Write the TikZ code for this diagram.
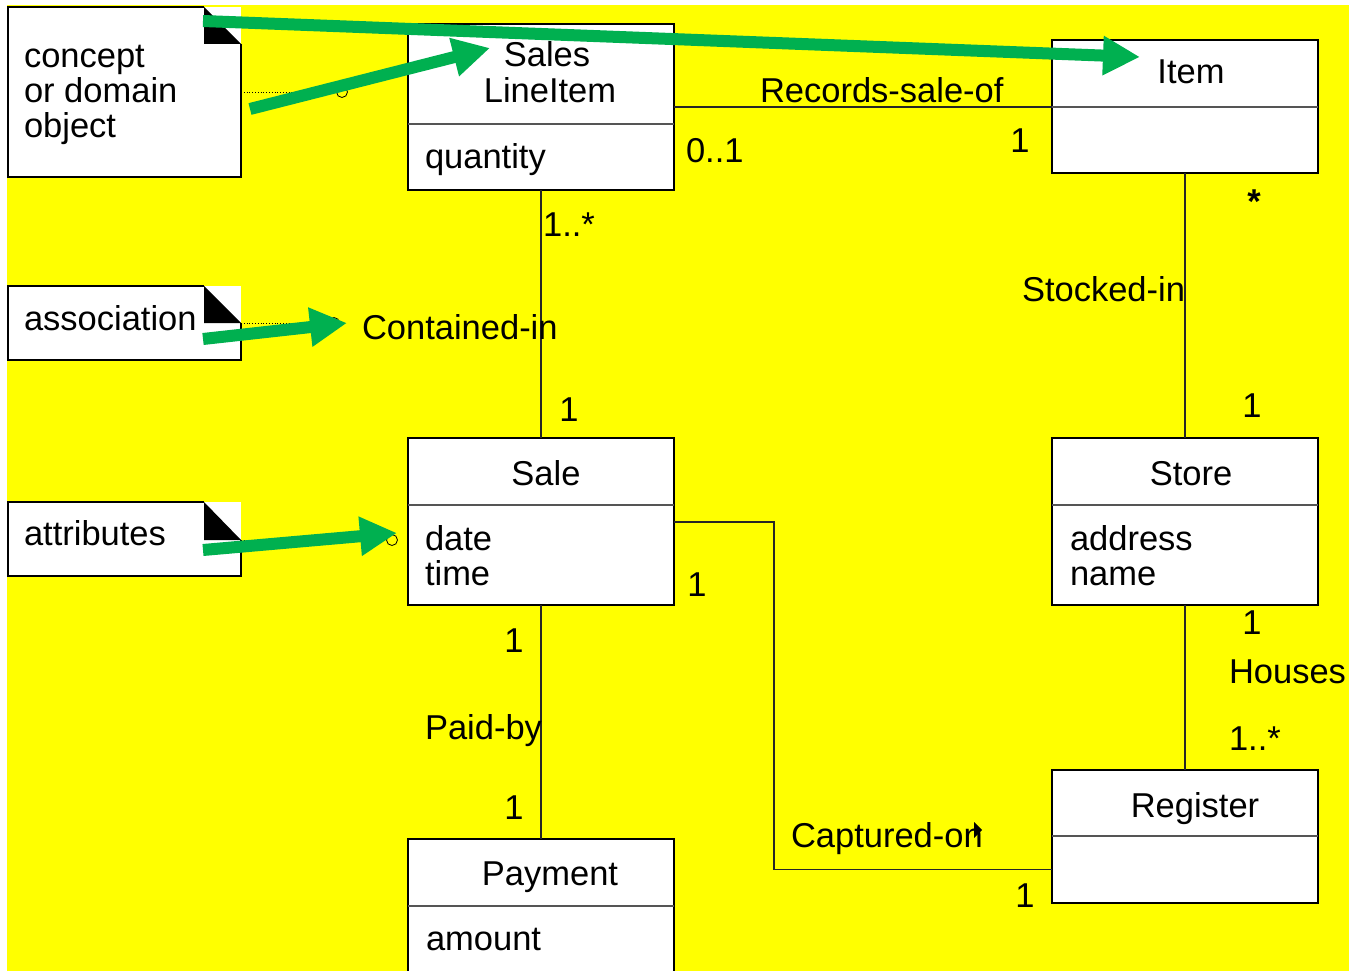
\documentclass[tikz,border=0pt]{standalone}
\usepackage{fontspec}
\setmainfont{Liberation Sans}
\usetikzlibrary{arrows.meta,calc}
\definecolor{bg}{RGB}{255,255,0}
\definecolor{hl}{RGB}{0,176,80}
\definecolor{rulegray}{RGB}{85,85,85}

\begin{document}
\begin{tikzpicture}[x=1pt,y=-1pt,
  every node/.style={inner sep=0pt, outer sep=0pt, font=\fontsize{34.5}{36}\selectfont},
  compart/.style={draw=black, fill=white, line width=1.2pt, minimum width=266pt, anchor=north west},
  divider/.style={draw=rulegray, line width=2pt},
  notebox/.style={fill=white, minimum width=233pt, anchor=north west},
  assoc/.style={draw=black!85, line width=1.2pt},
  hole/.style={circle, draw=black, line width=0.8pt, minimum size=11pt},
  dotline/.style={draw=black, line width=0.8pt, dotted},
  hilite/.style={draw=hl, line width=12pt, -{Triangle[length=37pt,width=37pt]}},
  lbl/.style={anchor=base west},
  ctr/.style={anchor=base}
]
\useasboundingbox (0,0) rectangle (1349,971);
\fill[white] (0,0) rectangle (1349,971);
\fill[bg] (7,5) rectangle (1349,971);

% ---- notes with folded corner ----
\node[notebox, minimum height=170pt] (n1) at (8,7) {};
\draw[line width=1.2pt] (204,7) -- (n1.north west) -- (n1.south west) -- (n1.south east) -- (241,44);
\fill[black] (204,7) -- (204,44) -- (241,44) -- cycle;
\node[notebox, minimum height=74pt] (n2) at (8,286) {};
\draw[line width=1.2pt] (204,286) -- (n2.north west) -- (n2.south west) -- (n2.south east) -- (241,323);
\fill[black] (204,286) -- (204,323) -- (241,323) -- cycle;
\node[notebox, minimum height=74pt] (n3) at (8,502) {};
\draw[line width=1.2pt] (204,502) -- (n3.north west) -- (n3.south west) -- (n3.south east) -- (241,540);
\fill[black] (204,502) -- (204,540) -- (241,540) -- cycle;

\node[lbl] (n1a) at (24,68) {concept};
\node[lbl] (n1b) at (24,103) {or domain};
\node[lbl] (n1c) at (24,138) {object};
\node[lbl] (n2t) at (24,330) {association};
\node[lbl] (n3t) at (24,545) {attributes};

% ---- classes ----
\node[compart, minimum height=100pt] (sliN) at (408,24) {};
\node[compart, minimum height=66pt] (sliA) at (408,124) {};
\draw[divider] (sliA.north west) -- (sliA.north east);

\node[compart, minimum height=67pt] (itemN) at (1052,40) {};
\node[compart, minimum height=66pt] (itemA) at (1052,107) {};
\draw[divider] (itemA.north west) -- (itemA.north east);

\node[compart, minimum height=67pt] (saleN) at (408,438) {};
\node[compart, minimum height=100pt] (saleA) at (408,505) {};
\draw[divider] (saleA.north west) -- (saleA.north east);

\node[compart, minimum height=67pt] (storeN) at (1052,438) {};
\node[compart, minimum height=100pt] (storeA) at (1052,505) {};
\draw[divider] (storeA.north west) -- (storeA.north east);

\node[compart, minimum height=66pt] (regN) at (1052,770) {};
\node[compart, minimum height=67pt] (regA) at (1052,836) {};
\draw[divider] (regA.north west) -- (regA.north east);

\node[compart, minimum height=67pt] (payN) at (408,839) {};
\node[compart, minimum height=100pt] (payA) at (408,906) {};
\draw[divider] (payA.north west) -- (payA.north east);

% class names and attributes
\node[ctr] (sliT1) at (547,67) {Sales};
\node[ctr] (sliT2) at (550,103) {LineItem};
\node[lbl] (sliX) at (425,168) {quantity};
\node[ctr] (itemT) at (1191,84) {Item};
\node[ctr] (saleT) at (546,485) {Sale};
\node[lbl] (saleX1) at (425,550) {date};
\node[lbl] (saleX2) at (425,585) {time};
\node[ctr] (storeT) at (1191,485) {Store};
\node[lbl] (storeX1) at (1070,550) {address};
\node[lbl] (storeX2) at (1070,585) {name};
\node[ctr] (regT) at (1195,817) {Register};
\node[ctr] (payT) at (550,885) {Payment};
\node[lbl] (payX) at (426,950) {amount};

% ---- associations ----
\draw[assoc] (sliN.east |- itemA.north west) -- (itemA.north west);
\draw[assoc] (sliA.south) -- (saleN.north);
\draw[assoc] (itemA.south) -- (storeN.north);
\draw[assoc] (storeA.south) -- (regN.north);
\draw[assoc] (saleA.south) -- (payN.north);
\coordinate (capBend) at (774,522);
\draw[assoc] (saleA.east |- capBend) -- (capBend) -- (capBend |- regA.west) -- (regA.west);

% association names and multiplicities
\node[lbl] (recT) at (760,103) {Records-sale-of};
\node[lbl] (recM1) at (686,162) {0..1};
\node[ctr] (recM2) at (1020,153) {1};
\node[lbl] (conT) at (362,339) {Contained-in};
\node[ctr] (conM1) at (569,236) {1..*};
\node[ctr] (conM2) at (569,421) {1};
\node[anchor=base east] (stkT) at (1185,301) {Stocked-in};
\node[ctr, font=\fontsize{34.5}{36}\selectfont\bfseries] (stkM1) at (1254,213) {*};
\node[ctr] (stkM2) at (1252,417) {1};
\node[ctr] (houM1) at (1252,634) {1};
\node[lbl] (houT) at (1229,683) {Houses};
\node[lbl] (houM2) at (1229,750) {1..*};
\node[ctr] (payM1) at (514,652) {1};
\node[lbl] (payL) at (425,739) {Paid-by};
\node[ctr] (payM2) at (514,819) {1};
\node[ctr] (capM1) at (697,596) {1};
\node[lbl] (capT) at (791,847) {Captured-on};
\node[ctr] (capM2) at (1025,907) {1};
\fill[black] (974,822) -- (982,830) -- (974,838) -- cycle;

% ---- note anchors ----
\node[hole] (h1) at (342,92) {};
\node[hole] (h2) at (334,323) {};
\node[hole] (h3) at (392,540) {};
\draw[dotline] (n1.east |- h1) -- (h1.west);
\draw[dotline] (n2.east |- h2) -- (h2.west);
\draw[dotline] (n3.east |- h3) -- (h3.west);

% ---- highlight arrows ----
\coordinate (g1s) at (203,21);
\coordinate (g1e) at (1140,57);
\coordinate (g2s) at (250,109);
\coordinate (g2e) at (490,48);
\coordinate (g3s) at (203,339);
\coordinate (g3e) at (347,323);
\coordinate (g4s) at (203,550);
\coordinate (g4e) at (397,533);
\draw[hilite] (g1s) -- (g1e);
\draw[hilite] (g2s) -- (g2e);
\draw[hilite] (g3s) -- (g3e);
\draw[hilite] (g4s) -- (g4e);
\end{tikzpicture}
\end{document}
